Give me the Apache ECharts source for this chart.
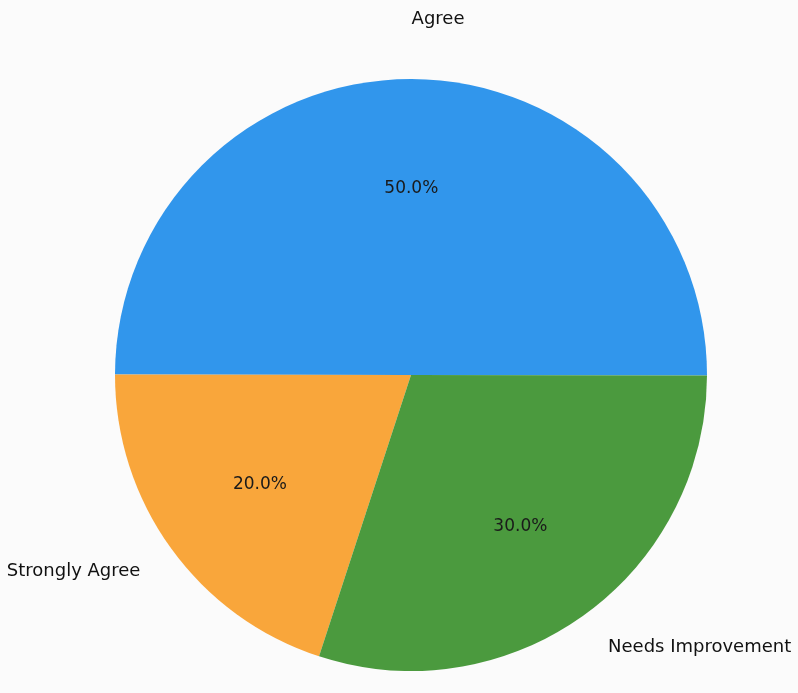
<!DOCTYPE html>
<html>
<head>
<meta charset="utf-8" />
<title>Pie</title>
<script type="text/javascript" src="https://cdn.jsdelivr.net/npm/echarts@6/dist/echarts.min.js"></script>
</head>
<body style="margin:0;background:#fbfbfb;">
	<div id="chartmain" style="width: 798px; height: 693px;"></div>
	<script type="text/javascript">
		// data
		var categories = [ 'Agree', 'Strongly Agree', 'Needs Improvement' ];
		var values = [ 50, 20, 30 ];
		var colors = [ '#3196ec', '#f9a63b', '#4b9a3e' ];

		// layout: gap between pie edge and each outer label (px)
		var R = 296;
		var labelGap = [ 60, 38, 40 ];
		var total = values.reduce(function(a, b) { return a + b; }, 0);

		var pieData = categories.map(function(c, i) {
			return {
				name : c,
				value : values[i],
				itemStyle : { color : colors[i] },
				labelLine : { show : false, length : labelGap[i], length2 : 0 }
			};
		});

		var option = {
			backgroundColor : '#fbfbfb',
			series : [ {
				// the slices with the category labels outside
				type : 'pie',
				center : [ 411, 375 ],
				radius : [ 0, R ],
				startAngle : -0.1,
				clockwise : false,
				avoidLabelOverlap : false,
				silent : true,
				animation : false,
				label : {
					show : true,
					position : 'outside',
					fontFamily : 'DejaVu Sans',
					fontSize : 18,
					color : '#111',
					distanceToLabelLine : 0
				},
				labelLine : { show : false },
				data : pieData
			}, {
				// invisible copy, only to place the percentage labels at ~0.6 R
				type : 'pie',
				center : [ 411, 375 ],
				radius : [ 0, 1.24 * R ],
				startAngle : -0.1,
				clockwise : false,
				silent : true,
				animation : false,
				itemStyle : { color : 'rgba(0,0,0,0)' },
				label : {
					show : true,
					position : 'inside',
					fontFamily : 'DejaVu Sans',
					fontSize : 17,
					color : '#1a1a1a',
					formatter : function(p) {
						return (p.value / total * 100).toFixed(1) + '%';
					}
				},
				labelLine : { show : false },
				data : categories.map(function(c, i) {
					return { name : c, value : values[i] };
				})
			} ]
		};

		var myChart = echarts.init(document.getElementById('chartmain'));
		myChart.setOption(option);
	</script>
</body>
</html>
